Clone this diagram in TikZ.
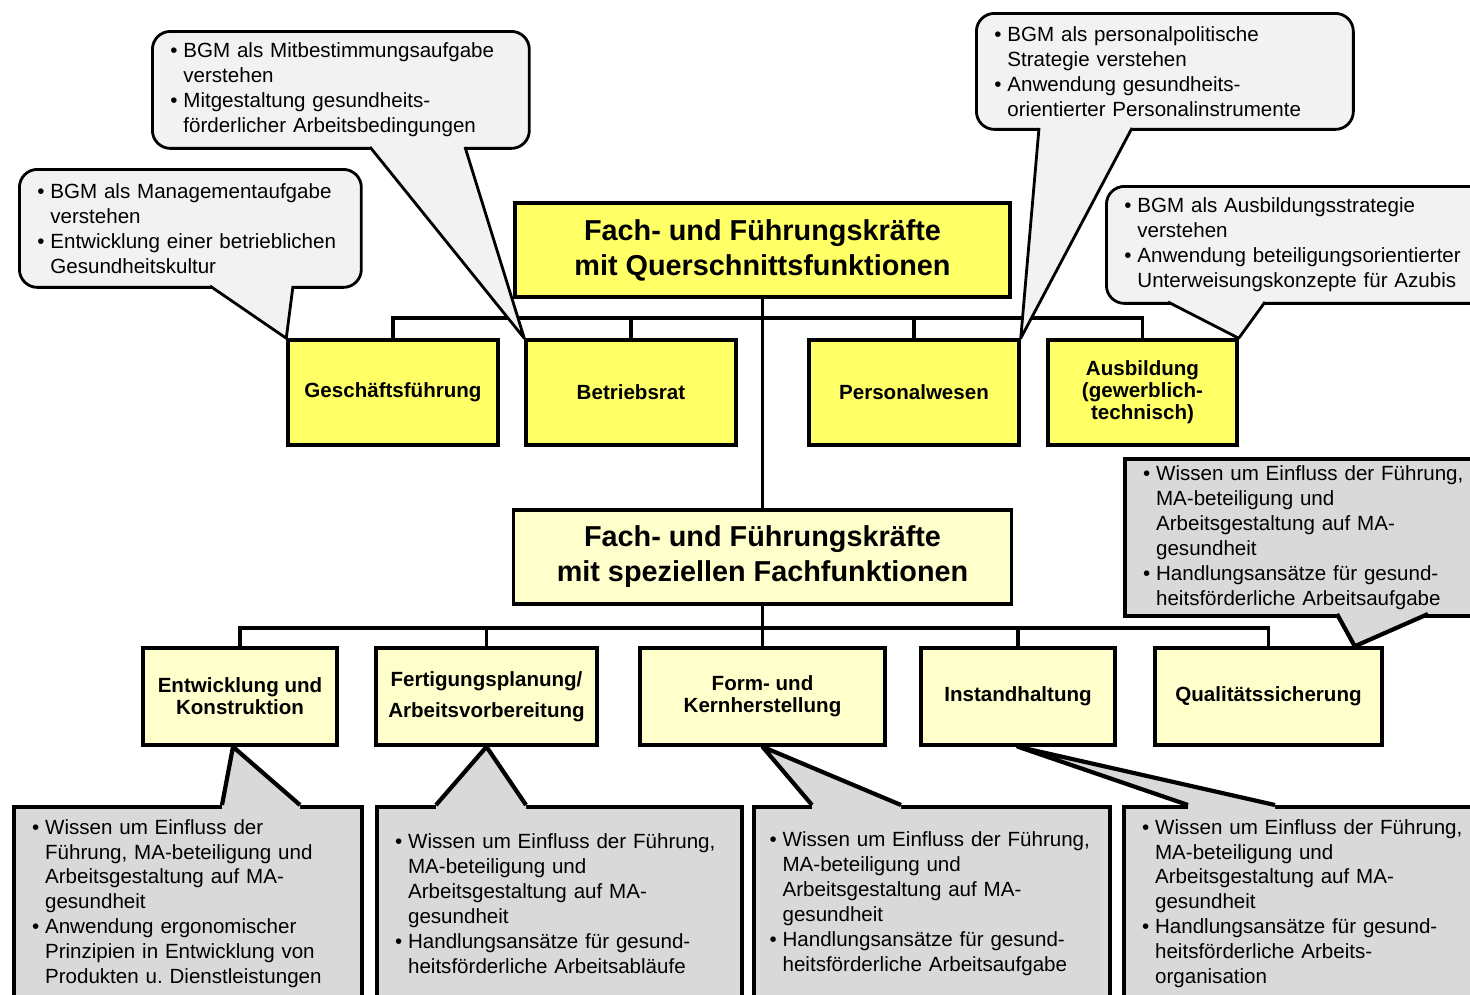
\documentclass[tikz,border=0pt]{standalone}
\usepackage{fontspec}
\setmainfont{Liberation Sans}
\frenchspacing

\definecolor{gelb}{HTML}{FFFF66}
\definecolor{hellgelb}{HTML}{FFFFCC}
\definecolor{hellgrau}{HTML}{F2F2F2}
\definecolor{grau}{HTML}{D9D9D9}

\newcommand{\pkt}{\makebox[0.26cm][l]{\textbullet}}
\newcommand{\ein}{\hspace*{0.26cm}}

\begin{document}
\begin{tikzpicture}[x=0.02cm, y=-0.02cm,
    titel/.style={draw, line width=2pt, align=center, minimum height=1.88cm,
      font=\fontsize{16.4}{19.9}\selectfont\bfseries},
    abt/.style={draw, line width=2pt, align=center,
      font=\fontsize{11.7}{12.5}\selectfont\bfseries},
    blase/.style={draw, line width=1.6pt, fill=hellgrau, rounded corners=0.36cm,
      anchor=north west, align=left, inner xsep=0.36cm,
      font=\fontsize{11.7}{14.2}\selectfont},
    kasten/.style={blase, fill=grau, line width=2.4pt, sharp corners},
    linie/.style={line width=1.8pt}]

    % Bildbereich
    \useasboundingbox (0,0) rectangle (1470,994);
    \clip (0,0) rectangle (1470,994);

    % Titel
    \node[titel, fill=gelb, minimum width=9.9cm] (quer) at (762.5,250)
      {Fach- und Führungskräfte\\mit Querschnittsfunktionen};
    \node[titel, fill=hellgelb, minimum width=9.96cm] (spez) at (762.5,557)
      {Fach- und Führungskräfte\\mit speziellen Fachfunktionen};

    % Querschnittsfunktionen
    \node[abt, fill=gelb, minimum width=4.2cm, minimum height=2.1cm] (gf) at (393,392.5) {Geschäftsführung};
    \node[abt, fill=gelb, minimum width=4.2cm, minimum height=2.1cm] (br) at (631,392.5) {Betriebsrat};
    \node[abt, fill=gelb, minimum width=4.2cm, minimum height=2.1cm] (pw) at (914,392.5) {Personalwesen};
    \node[abt, fill=gelb, minimum width=3.78cm, minimum height=2.1cm] (ausb) at (1142.5,392.5) {Ausbildung\\(gewerblich-\\technisch)};

    % Fachfunktionen
    \node[abt, fill=hellgelb, minimum width=3.88cm, minimum height=1.94cm] (ek) at (240,696.5) {Entwicklung und\\Konstruktion};
    \node[abt, fill=hellgelb, minimum width=4.42cm, minimum height=1.94cm] (fp) at (486.5,696.5) {Fertigungsplanung/\\[5pt]Arbeitsvorbereitung};
    \node[abt, fill=hellgelb, minimum width=4.9cm, minimum height=1.94cm] (fk) at (762.5,696.5) {Form- und\\Kernherstellung};
    \node[abt, fill=hellgelb, minimum width=3.88cm, minimum height=1.94cm] (ih) at (1018,696.5) {Instandhaltung};
    \node[abt, fill=hellgelb, minimum width=4.54cm, minimum height=1.94cm] (qs) at (1268.5,696.5) {Qualitätssicherung};

    % Verbindungen
    \coordinate (bus1) at (762.5,318);
    \coordinate (bus2) at (762.5,628);
    \draw[linie] (quer) -- (spez);
    \draw[linie] (spez) -- (fk);
    \draw[linie] (gf.north) |- (bus1) -| (ausb.north);
    \foreach \n in {br,pw} {
      \draw[linie] (\n.north) -- (\n.north |- bus1);
    }
    \draw[linie] (ek.north) |- (bus2) -| (qs.north);
    \foreach \n in {fp,ih} {
      \draw[linie] (\n.north) -- (\n.north |- bus2);
    }

    % Sprechblasen oben
    \node[blase, text width=6.12cm, minimum height=2.36cm] (bmanag) at (18,168)
      {\pkt BGM als Managementaufgabe\\\ein verstehen\\\pkt Entwicklung einer betrieblichen\\\ein Gesundheitskultur};
    \node[blase, text width=6.82cm, minimum height=2.34cm] (bmitb) at (151,30)
      {\pkt BGM als Mitbestimmungsaufgabe\\\ein verstehen\\\pkt Mitgestaltung gesundheits-\\\ein förderlicher Arbeitsbedingungen};
    \node[blase, text width=6.82cm, minimum height=2.32cm] (bpers) at (975,12)
      {\pkt BGM als personalpolitische\\\ein Strategie verstehen\\\pkt Anwendung gesundheits-\\\ein orientierter Personalinstrumente};
    \node[blase, text width=6.98cm, minimum height=2.34cm] (bausb) at (1105,185)
      {\pkt BGM als Ausbildungsstrategie\\\ein verstehen\\\pkt Anwendung beteiligungsorientierter\\\ein Unterweisungskonzepte für Azubis};

    % Kaesten grau
    \node[kasten, text width=6.62cm, minimum height=3.14cm] (kqual) at (1123,457)
      {\pkt Wissen um Einfluss der Führung,\\\ein MA-beteiligung und\\\ein Arbeitsgestaltung auf MA-\\\ein gesundheit\\\pkt Handlungsansätze für gesund-\\\ein heitsförderliche Arbeitsaufgabe};
    \node[kasten, text width=6.24cm, minimum height=3.86cm] (kentw) at (12,805)
      {\pkt Wissen um Einfluss der\\\ein Führung, MA-beteiligung und\\\ein Arbeitsgestaltung auf MA-\\\ein gesundheit\\\pkt Anwendung ergonomischer\\\ein Prinzipien in Entwicklung von\\\ein Produkten u. Dienstleistungen};
    \node[kasten, text width=6.58cm, minimum height=3.86cm] (kfert) at (375,805)
      {\pkt Wissen um Einfluss der Führung,\\\ein MA-beteiligung und\\\ein Arbeitsgestaltung auf MA-\\\ein gesundheit\\\pkt Handlungsansätze für gesund-\\\ein heitsförderliche Arbeitsabläufe};
    \node[kasten, text width=6.5cm, inner xsep=0.31cm, minimum height=3.86cm] (kform) at (752,805)
      {\pkt Wissen um Einfluss der Führung,\\\ein MA-beteiligung und\\\ein Arbeitsgestaltung auf MA-\\\ein gesundheit\\\pkt Handlungsansätze für gesund-\\\ein heitsförderliche Arbeitsaufgabe};
    \node[kasten, text width=6.64cm, minimum height=3.86cm] (kinst) at (1122,805)
      {\pkt Wissen um Einfluss der Führung,\\\ein MA-beteiligung und\\\ein Arbeitsgestaltung auf MA-\\\ein gesundheit\\\pkt Handlungsansätze für gesund-\\\ein heitsförderliche Arbeits-\\\ein organisation};

    % Zipfel
    \coordinate (qtip) at ([xshift=-0.58cm]qs.north east);
    \coordinate (etip) at ([xshift=-0.14cm]ek.south);
    \foreach \xa/\xb/\yb/\yi/\ziel/\fb/\lw in {
        210/293/286/282/gf.north west/hellgrau/1.6,
        370/465/147/143/br.north west/hellgrau/1.6,
        1039/1132/128/124/pw.north east/hellgrau/1.6,
        1168/1265/302/298/ausb.north east/hellgrau/1.6,
        1337/1428/614/610/qtip/grau/2.4,
        222/300/805/809/etip/grau/2.4,
        436/526/805/809/fp.south/grau/2.4,
        812/901/805/809/fk.south/grau/2.4,
        1188/1275/805/809/ih.south/grau/2.4} {
      \fill[fill=\fb] (\xa,\yi) -- (\xa,\yb) -- (\ziel) -- (\xb,\yb) -- (\xb,\yi) -- cycle;
      \draw[line width=\lw pt, line join=round] (\xa,\yb) -- (\ziel) -- (\xb,\yb);
    }
  \end{tikzpicture}
\end{document}
